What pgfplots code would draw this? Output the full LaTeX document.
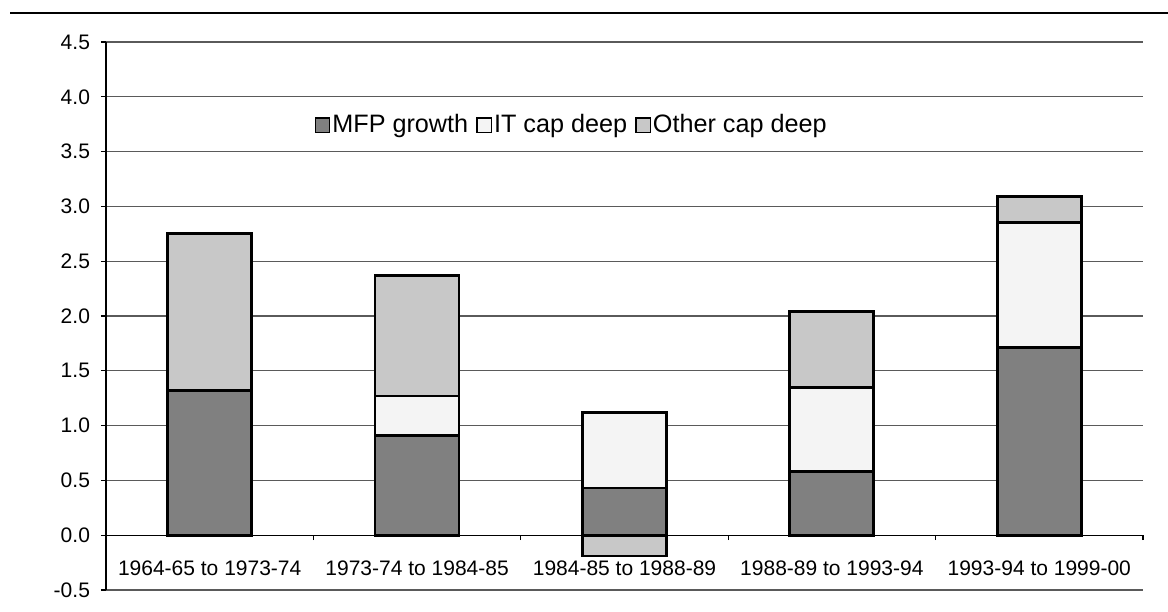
\documentclass[border=0pt]{standalone}
\usepackage{fontspec}
\setmainfont{Liberation Sans}
\usepackage{pgfplots}
\pgfplotsset{compat=1.18}
\definecolor{mfp}{RGB}{128,128,128}
\definecolor{itc}{RGB}{244,244,244}
\definecolor{oth}{RGB}{200,200,200}
\definecolor{gridc}{RGB}{90,90,90}
\pgfplotsset{sq/.style={legend image code/.code={\draw[##1, line width=0.7pt] (0pt,-3.6pt) rectangle (7.2pt,3.6pt);}}}
\begin{document}
\begin{tikzpicture}[x=1pt,y=1pt]
\path[use as bounding box] (0,0) rectangle (584,305.5);
\draw[line width=1.4pt] (5,299) -- (584,299);
\begin{axis}[
  at={(53pt,10.5pt)}, anchor=south west,
  scale only axis, width=518.5pt, height=274pt,
  xmin=-0.5, xmax=4.5, ymin=-0.5, ymax=4.5,
  ybar stacked, bar width=42pt,
  axis y line*=left, axis x line*=middle,
  axis line style={black, line width=0.6pt},
  ytick={-0.5,0,0.5,1,1.5,2,2.5,3,3.5,4,4.5},
  ymajorgrids, grid style={gridc, line width=0.6pt},
  xtick={0,1,2,3,4},
  xticklabels={1964-65 to 1973-74,1973-74 to 1984-85,1984-85 to 1988-89,1988-89 to 1993-94,1993-94 to 1999-00},
  minor xtick={-0.5,0.5,1.5,2.5,3.5,4.5},
  tick align=outside, major tick length=2.5pt, minor tick length=2.5pt,
  major x tick style={draw=none},
  minor x tick style={black, line width=0.6pt},
  ytick style={black, line width=0.6pt},
  tick label style={font=\fontsize{10.5}{12}\selectfont},
  xticklabel style={yshift=-7pt},
  yticklabel style={xshift=-2pt},
  yticklabel={\pgfmathprintnumber[fixed,fixed zerofill,precision=1,assume math mode=true]{\tick}},
  legend style={at={(0.449,0.8485)}, anchor=center, draw=none, fill=none,
    font=\fontsize{12.6}{14}\selectfont, inner sep=0pt,
    /tikz/every even column/.append style={column sep=3pt},
    nodes={inner sep=1pt}},
  legend columns=-1,
]
\addplot[sq, fill=mfp, draw=black, line width=1.4pt] coordinates {(0,1.32) (1,0.91) (2,0.43) (3,0.58) (4,1.71)};
\addplot[sq, fill=itc, draw=black, line width=1.4pt] coordinates {(0,0) (1,0.36) (2,0.69) (3,0.77) (4,1.14)};
\addplot[sq, fill=oth, draw=black, line width=1.4pt] coordinates {(0,1.43) (1,1.10) (2,0) (3,0.69) (4,0.24)};
\legend{MFP growth,IT cap deep,Other cap deep}
\end{axis}
\begin{axis}[
  at={(53pt,10.5pt)}, anchor=south west,
  scale only axis, width=518.5pt, height=274pt,
  xmin=-0.5, xmax=4.5, ymin=-0.5, ymax=4.5,
  hide axis, ybar, bar width=42pt,
]
\addplot[fill=oth, draw=black, line width=1.4pt] coordinates {(2,-0.19)};
\end{axis}
\end{tikzpicture}
\end{document}
